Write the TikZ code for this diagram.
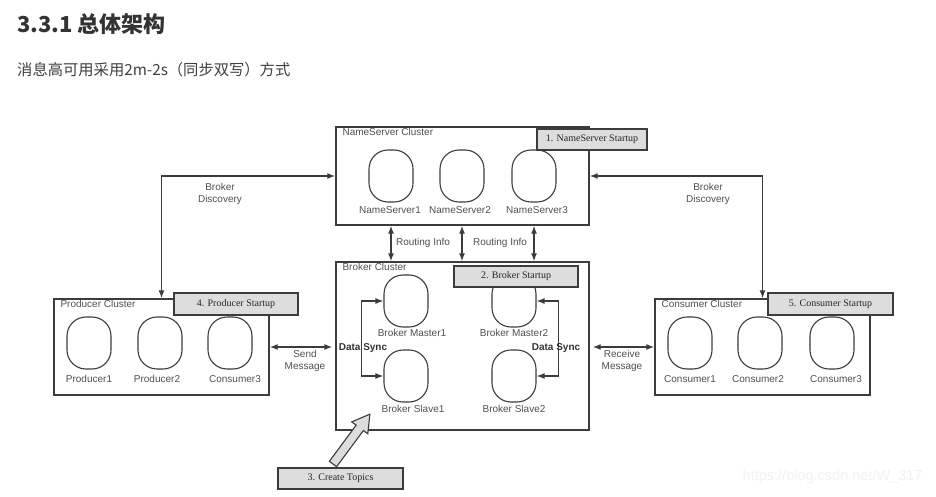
\documentclass[tikz,border=0pt]{standalone}
\usepackage{fontspec}
\setmainfont{Liberation Sans}
\newfontfamily\serifbox{Liberation Serif}
\newfontfamily\cjk{Noto Sans CJK SC}
\usetikzlibrary{arrows.meta,positioning}
\definecolor{txtgray}{RGB}{80,80,80}
\definecolor{linegray}{RGB}{60,60,60}
\definecolor{stepgray}{RGB}{221,221,221}

\begin{document}
\begin{tikzpicture}[x=1pt,y=-1pt,
  every node/.style={text=txtgray,font=\fontsize{10}{12}\selectfont},
  cluster/.style={draw=linegray,line width=1.3pt,inner sep=0pt},
  clusterlbl/.style={anchor=west,inner sep=0pt},
  oval/.style={draw=linegray,line width=1.1pt,minimum width=44pt,
    minimum height=52pt,rounded corners=19pt,inner sep=0pt},
  stepbox/.style={draw=linegray,line width=1.1pt,fill=stepgray,inner sep=0pt,
    text=black!85,font=\serifbox\fontsize{10}{12}\selectfont},
  link/.style={draw=linegray,line width=1.3pt,
    {Latex[length=8pt,width=6pt]}-{Latex[length=8pt,width=6pt]}},
  synclbl/.style={text=black!80,font=\bfseries\fontsize{10}{12}\selectfont}]

\useasboundingbox (0,0) rectangle (936,497);
\fill[white] (0,0) rectangle (936,497);

%%%%%%%%%%%%%%%%%%%%%%%%%%%%%%%%%%%%%%%%%%%%%%%%%%
% Heading
%%%%%%%%%%%%%%%%%%%%%%%%%%%%%%%%%%%%%%%%%%%%%%%%%%

\node[anchor=west,inner sep=0pt,text=black!80,
  font=\cjk\bfseries\fontsize{22}{25}\selectfont] (title) at (17,24)
{3.3.1 总体架构};
\node[anchor=west,inner sep=0pt,text=black!75,
  font=\cjk\fontsize{15.3}{18}\selectfont] (subtitle) at (17,70)
{消息高可用采用2m-2s（同步双写）方式};

%%%%%%%%%%%%%%%%%%%%%%%%%%%%%%%%%%%%%%%%%%%%%%%%%%
% NameServer cluster
%%%%%%%%%%%%%%%%%%%%%%%%%%%%%%%%%%%%%%%%%%%%%%%%%%

\node[cluster,minimum width=253pt,minimum height=98pt] (ns) at (462.5,176) {};
\node[clusterlbl] (nslbl) at ([shift={(7,6)}]ns.north west) {NameServer Cluster};

% Servers
\node[oval] (ns1) at (391,176) {};
\node[oval] (ns2) at (462,176) {};
\node[oval] (ns3) at (534,176) {};
\node (ns1lbl) at (390,210) {NameServer1};
\node (ns2lbl) at (460,210) {NameServer2};
\node (ns3lbl) at (537,210) {NameServer3};

\node[stepbox,minimum width=110pt,minimum height=21pt] (step1) at (592,139.5)
{1. NameServer Startup};

%%%%%%%%%%%%%%%%%%%%%%%%%%%%%%%%%%%%%%%%%%%%%%%%%%
% Broker cluster
%%%%%%%%%%%%%%%%%%%%%%%%%%%%%%%%%%%%%%%%%%%%%%%%%%

\node[cluster,minimum width=253pt,minimum height=168pt] (bk) at (462.5,346) {};
\node[clusterlbl] (bklbl) at ([shift={(7,6)}]bk.north west) {Broker Cluster};

% Masters and slaves
\node[oval] (bm1) at (406,301) {};
\node[oval] (bm2) at (514,301) {};
\node[oval] (bs1) at (406,376) {};
\node[oval] (bs2) at (514,376) {};
\node (bm1lbl) at (412,333) {Broker Master1};
\node (bm2lbl) at (514,333) {Broker Master2};
\node (bs1lbl) at (413,409) {Broker Slave1};
\node (bs2lbl) at (514,409) {Broker Slave2};

\node[stepbox,minimum width=124pt,minimum height=21pt] (step2) at (516,276.5)
{2. Broker Startup};

% Data sync
\draw[link] (bm1.west) -- ++(-22,0) |- (bs1.west);
\draw[link] (bm2.east) -- ++(22,0) |- (bs2.east);
\node[synclbl] (sync1) at (363,348) {Data Sync};
\node[synclbl] (sync2) at (556,348) {Data Sync};

%%%%%%%%%%%%%%%%%%%%%%%%%%%%%%%%%%%%%%%%%%%%%%%%%%
% Producer cluster
%%%%%%%%%%%%%%%%%%%%%%%%%%%%%%%%%%%%%%%%%%%%%%%%%%

\node[cluster,minimum width=215pt,minimum height=96pt] (pc) at (161.5,347) {};
\node[clusterlbl] (pclbl) at ([shift={(7,6)}]pc.north west) {Producer Cluster};

\node[oval] (p1) at (89,343) {};
\node[oval] (p2) at (160,343) {};
\node[oval] (p3) at (230,343) {};
\node (p1lbl) at (89,379) {Producer1};
\node (p2lbl) at (157,379) {Producer2};
\node (p3lbl) at (235,379) {Consumer3};

\node[stepbox,minimum width=124pt,minimum height=22pt] (step4) at (236,304)
{4. Producer Startup};

%%%%%%%%%%%%%%%%%%%%%%%%%%%%%%%%%%%%%%%%%%%%%%%%%%
% Consumer cluster
%%%%%%%%%%%%%%%%%%%%%%%%%%%%%%%%%%%%%%%%%%%%%%%%%%

\node[cluster,minimum width=215pt,minimum height=96pt] (cc) at (762.5,347) {};
\node[clusterlbl] (cclbl) at ([shift={(7,6)}]cc.north west) {Consumer Cluster};

\node[oval] (c1) at (690,343) {};
\node[oval] (c2) at (760,343) {};
\node[oval] (c3) at (832,343) {};
\node (c1lbl) at (690,379) {Consumer1};
\node (c2lbl) at (758,379) {Consumer2};
\node (c3lbl) at (836,379) {Consumer3};

\node[stepbox,minimum width=125pt,minimum height=22pt] (step5) at (830.5,304)
{5. Consumer Startup};

%%%%%%%%%%%%%%%%%%%%%%%%%%%%%%%%%%%%%%%%%%%%%%%%%%
% Links
%%%%%%%%%%%%%%%%%%%%%%%%%%%%%%%%%%%%%%%%%%%%%%%%%%

% Routing info
\draw[link] (ns.south -| ns1) -- (bk.north -| ns1);
\draw[link] (ns.south -| ns2) -- (bk.north -| ns2);
\draw[link] (ns.south -| ns3) -- (bk.north -| ns3);
\node (route1) at (423,243) {Routing Info};
\node (route2) at (500,243) {Routing Info};

% Broker discovery
\draw[link] (ns.west) -| (pc.north);
\draw[link] (ns.east) -| (cc.north);
\node[align=center] (disc1) at (220,194) {Broker\\Discovery};
\node[align=center] (disc2) at (708,194) {Broker\\Discovery};

% Messages
\draw[link,shorten >=3pt] (pc.east) -- (pc.east -| bk.west);
\draw[link,shorten <=3pt] (cc.west -| bk.east) -- (cc.west);
\node[align=center] (send) at (305,361) {Send\\Message};
\node[align=center] (recv) at (622,361) {Receive\\Message};

% Create topics
\node[stepbox,minimum width=125pt,minimum height=21pt] (step3) at (340.5,478.5)
{3. Create Topics};
\begin{scope}[shift={(333,464)},rotate=53.5]
\draw[draw=linegray,line width=1.1pt,fill=stepgray,line join=miter]
(0,-4.5)--(45,-4.5)--(45,-10)--(62,0)--(45,10)--(45,4.5)--(0,4.5)--cycle;
\end{scope}

% Watermark
\node[anchor=east,text=black!5,font=\fontsize{14.5}{16}\selectfont] (mark)
at (926,477) {https://blog.csdn.net/W\_317};

\end{tikzpicture}
\end{document}
